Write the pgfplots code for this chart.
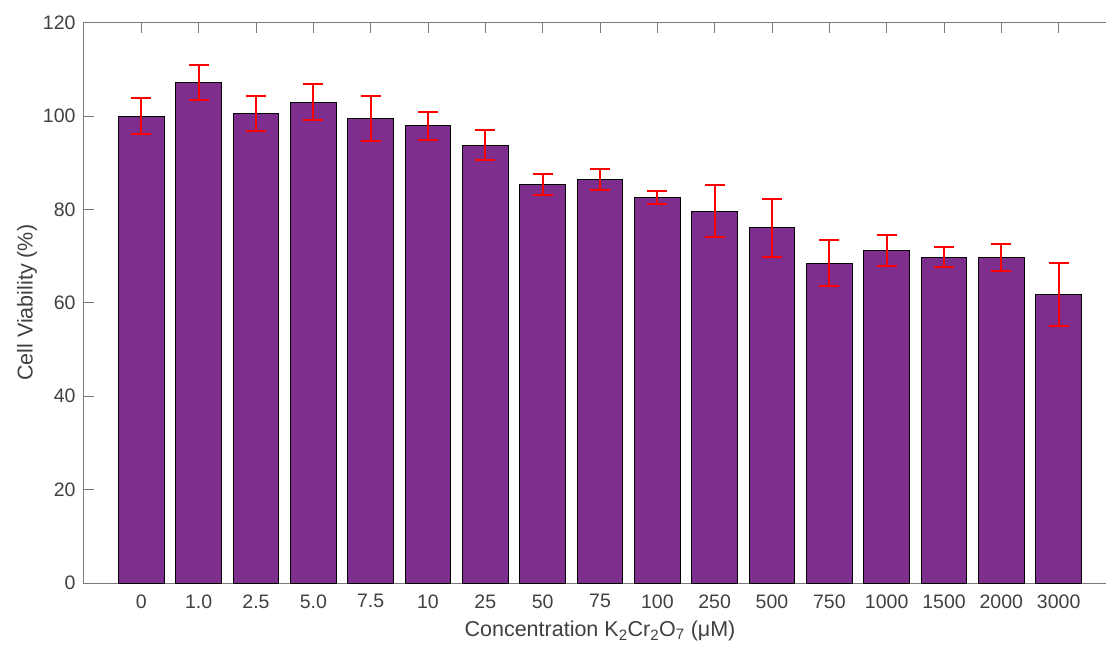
\documentclass[border=0pt]{standalone}
\usepackage{pgfplots}
\pgfplotsset{compat=1.18}
\usepackage{fontspec}
\setmainfont{Liberation Sans}
\definecolor{barpurple}{HTML}{7E2F8E}
\definecolor{axgray}{HTML}{7A7A7A}
\definecolor{txtgray}{HTML}{404040}

\pgfplotstableread{
x y e
0 100.0 3.85
1 107.2 3.7
2 100.6 3.7
3 103.0 3.85
4 99.5 4.9
5 97.9 3.0
6 93.8 3.25
7 85.3 2.3
8 86.4 2.2
9 82.6 1.4
10 79.6 5.6
11 76.1 6.2
12 68.5 4.9
13 71.2 3.4
14 69.8 2.2
15 69.8 2.9
16 61.8 6.7
}\datatable

\begin{document}
\begin{tikzpicture}
\begin{axis}[
  name=ax,
  at={(0,0)}, anchor=south west,
  scale only axis,
  width=1032pt, height=560.3pt,
  xmin=-1, xmax=17, ymin=0, ymax=120,
  xtick={0,...,16},
  xticklabels={0,1.0,2.5,5.0,7.5,10,25,50,75,100,250,500,750,1000,1500,2000,3000},
  ytick={0,20,...,120},
  tick align=inside,
  major tick length=10pt,
  axis line style={axgray, line width=1pt},
  every tick/.style={axgray, line width=1pt},
  tick label style={font=\fontsize{19.5}{20}\selectfont, text=txtgray},
  label style={font=\fontsize{21.5}{22}\selectfont, text=txtgray},
  xticklabel shift=8pt,
  yticklabel shift=5pt,
  xlabel shift=6pt,
  ylabel shift=-1pt,
  xlabel={Concentration K\textsubscript{2}Cr\textsubscript{2}O\textsubscript{7} (μM)},
  ylabel={Cell Viability (\%)},
  /pgf/number format/assume math mode=true,
]
\addplot[ybar, bar width=0.8, fill=barpurple, draw=black, line width=0.9pt,
  error bars/.cd, y dir=both, y explicit,
  error bar style={draw=red, line width=2pt},
  error mark options={draw=red, line width=2pt, mark size=10pt, rotate=90}]
  table[x=x, y=y, y error=e] {\datatable};
\end{axis}
\pgfresetboundingbox
\path[use as bounding box] (-84pt,-62pt) rectangle (1022pt,583pt);
\end{tikzpicture}
\end{document}
